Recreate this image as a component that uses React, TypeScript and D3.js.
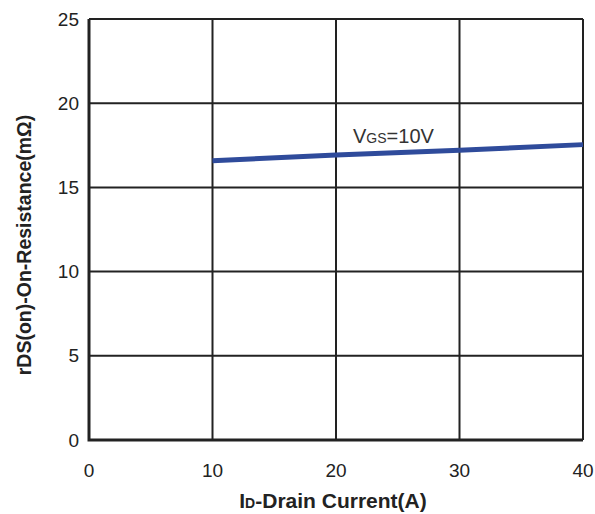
import { useEffect, useRef } from "react";
import * as d3 from "d3";

const currentA = [10, 20, 30, 40];
const resistance = [16.58, 16.92, 17.2, 17.54];
const xTicks = [0, 10, 20, 30, 40];
const yTicks = [0, 5, 10, 15, 20, 25];

function App() {
  const ref = useRef<SVGSVGElement>(null);
  const width = 595;
  const height = 514;
  const margin = { top: 19, right: 12, bottom: 74, left: 89 };

  useEffect(() => {
    const svg = d3.select(ref.current);
    svg.selectAll("*").remove();

    const x = d3
      .scaleLinear()
      .domain([0, 40])
      .range([margin.left, width - margin.right]);
    const y = d3
      .scaleLinear()
      .domain([0, 25])
      .range([height - margin.bottom, margin.top]);

    const font = "Arial, 'Liberation Sans', sans-serif";

    // grid
    svg
      .append("g")
      .selectAll("line")
      .data(xTicks)
      .enter()
      .append("line")
      .attr("x1", (d) => x(d))
      .attr("x2", (d) => x(d))
      .attr("y1", y(0))
      .attr("y2", y(25))
      .attr("stroke", "#222")
      .attr("stroke-width", 2);
    svg
      .append("g")
      .selectAll("line")
      .data(yTicks)
      .enter()
      .append("line")
      .attr("x1", x(0))
      .attr("x2", x(40))
      .attr("y1", (d) => y(d))
      .attr("y2", (d) => y(d))
      .attr("stroke", "#222")
      .attr("stroke-width", 2);

    // axes frame (left + bottom heavier)
    svg
      .append("path")
      .attr("d", `M${x(0)},${y(25)}V${y(0)}H${x(40)}`)
      .attr("fill", "none")
      .attr("stroke", "#222")
      .attr("stroke-width", 3);

    // tick labels
    svg
      .append("g")
      .selectAll("text")
      .data(yTicks)
      .enter()
      .append("text")
      .attr("x", x(0) - 10)
      .attr("y", (d) => y(d))
      .attr("dy", "0.35em")
      .attr("text-anchor", "end")
      .attr("font-family", font)
      .attr("font-size", 19)
      .attr("fill", "#222")
      .text((d) => d);
    svg
      .append("g")
      .selectAll("text")
      .data(xTicks)
      .enter()
      .append("text")
      .attr("x", (d) => x(d))
      .attr("y", y(0) + 37)
      .attr("text-anchor", "middle")
      .attr("font-family", font)
      .attr("font-size", 19)
      .attr("fill", "#222")
      .text((d) => d);

    // curve
    const line = d3
      .line<number>()
      .x((_, i) => x(currentA[i]))
      .y((d) => y(d));
    svg
      .append("path")
      .datum(resistance)
      .attr("d", line)
      .attr("fill", "none")
      .attr("stroke", "#2f4b9b")
      .attr("stroke-width", 5);

    // curve label
    const lbl = svg
      .append("text")
      .attr("x", 353)
      .attr("y", 143)
      .attr("font-family", font)
      .attr("font-size", 20)
      .attr("fill", "#333");
    lbl.append("tspan").text("V");
    lbl.append("tspan").attr("font-size", 14).text("GS");
    lbl.append("tspan").text("=10V");

    // axis titles
    const xt = svg
      .append("text")
      .attr("x", 333)
      .attr("y", 508)
      .attr("text-anchor", "middle")
      .attr("font-family", font)
      .attr("font-size", 21)
      .attr("font-weight", "bold")
      .attr("fill", "#222");
    xt.append("tspan").text("I");
    xt.append("tspan").attr("font-size", 14).text("D");
    xt.append("tspan").text("-Drain Current(A)");

    svg
      .append("text")
      .attr("transform", `translate(31,245) rotate(-90)`)
      .attr("text-anchor", "middle")
      .attr("font-family", font)
      .attr("font-size", 19.5)
      .attr("font-weight", "bold")
      .attr("fill", "#222")
      .text("rDS(on)-On-Resistance(mΩ)");
  }, []);

  return (
    <svg
      ref={ref}
      width={width}
      height={height}
      style={{ position: "absolute", left: 0, top: 0, background: "#fff" }}
    />
  );
}

export default App;
